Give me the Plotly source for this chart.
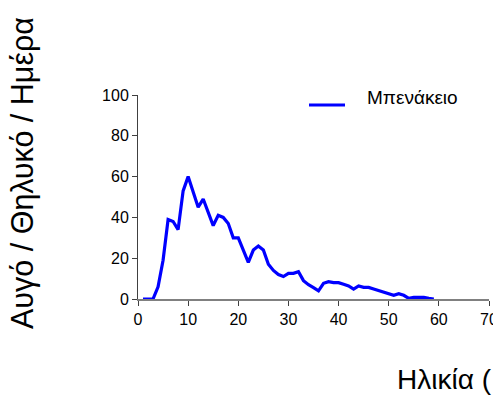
import plotly.graph_objects as go

age = [1, 3, 4, 5, 6, 7, 8, 9, 10, 11, 12, 13, 14, 15, 16, 17, 18, 19, 20,
       21, 22, 23, 24, 25, 26, 27, 28, 29, 30, 31, 32, 33, 34, 35, 36, 37, 38,
       39, 40, 41, 42, 43, 44, 45, 46, 47, 48, 49, 50, 51, 52, 53, 54, 55, 56,
       57, 58, 59]
eggs = [0, 0, 6, 19, 39, 38, 34, 53, 60, 52, 45, 49, 42, 36, 41, 40, 37, 30, 30,
        24, 18, 24, 26, 24, 17, 14, 12, 11, 12.6, 12.6, 13.4, 9, 7, 5.6, 4, 7.7, 8.5,
        8, 8, 7.2, 6.4, 4.8, 6.4, 5.7, 5.7, 4.9, 4.1, 3.4, 2.6, 1.8, 2.6, 1.8, 0.3,
        0.8, 0.8, 0.8, 0.3, 0]
series_name = "Μπενάκειο"
x_ticks = [0, 10, 20, 30, 40, 50, 60, 70]
y_ticks = [0, 20, 40, 60, 80, 100]
y_title = "Αυγό / Θηλυκό / Ημέρα"
x_title = "Ηλικία ("

FONT = "Liberation Sans, Arial, sans-serif"
OFF = 8  # page body margin
W, H = 501 - OFF, 403 - OFF
L, R, T, B = 138 - OFF, 489 - OFF, 95 - OFF, 299 - OFF
PW, PH = R - L, B - T


def px(x):
    return (x - OFF - L) / PW


def py(y):
    return (B - (y - OFF)) / PH


fig = go.Figure()
fig.add_trace(go.Scatter(x=age, y=eggs, mode="lines", name=series_name,
                         line=dict(color="#0000FF", width=3.2), showlegend=False))

fig.update_layout(
    width=W, height=H,
    margin=dict(l=L, r=W - R, t=T, b=H - B, autoexpand=False),
    paper_bgcolor="white", plot_bgcolor="white",
    font=dict(family=FONT, color="black", size=16),
    showlegend=False,
    xaxis=dict(range=[0, 70], tickvals=x_ticks, showgrid=False, zeroline=False,
               showline=True, linecolor="#808080", linewidth=1.5, automargin=False,
               ticks="outside", ticklen=5, tickcolor="#404040", tickwidth=1,
               tickfont=dict(size=16)),
    yaxis=dict(range=[0, 100], tickvals=y_ticks, showgrid=False, zeroline=False,
               showline=True, linecolor="#404040", linewidth=1, automargin=False,
               ticks="outside", ticklen=5, tickcolor="#404040", tickwidth=1,
               tickfont=dict(size=16)),
    shapes=[
        dict(type="line", xref="paper", yref="paper",
             x0=px(309), x1=px(345), y0=py(105), y1=py(105),
             line=dict(color="#0000FF", width=3.2)),
    ],
    annotations=[
        dict(text=series_name, xref="paper", yref="paper",
             x=px(365), y=py(98), xanchor="left", yanchor="middle",
             showarrow=False, font=dict(size=19, family=FONT)),
        dict(text=y_title, xref="paper", yref="paper",
             x=px(22), y=py(173), xanchor="center", yanchor="middle",
             textangle=-90, showarrow=False, font=dict(size=30.5, family=FONT)),
        dict(text=x_title, xref="paper", yref="paper",
             x=px(395), y=py(379), xanchor="left", yanchor="middle",
             showarrow=False, font=dict(size=28, family=FONT)),
    ],
)

fig.write_html("out.html")
